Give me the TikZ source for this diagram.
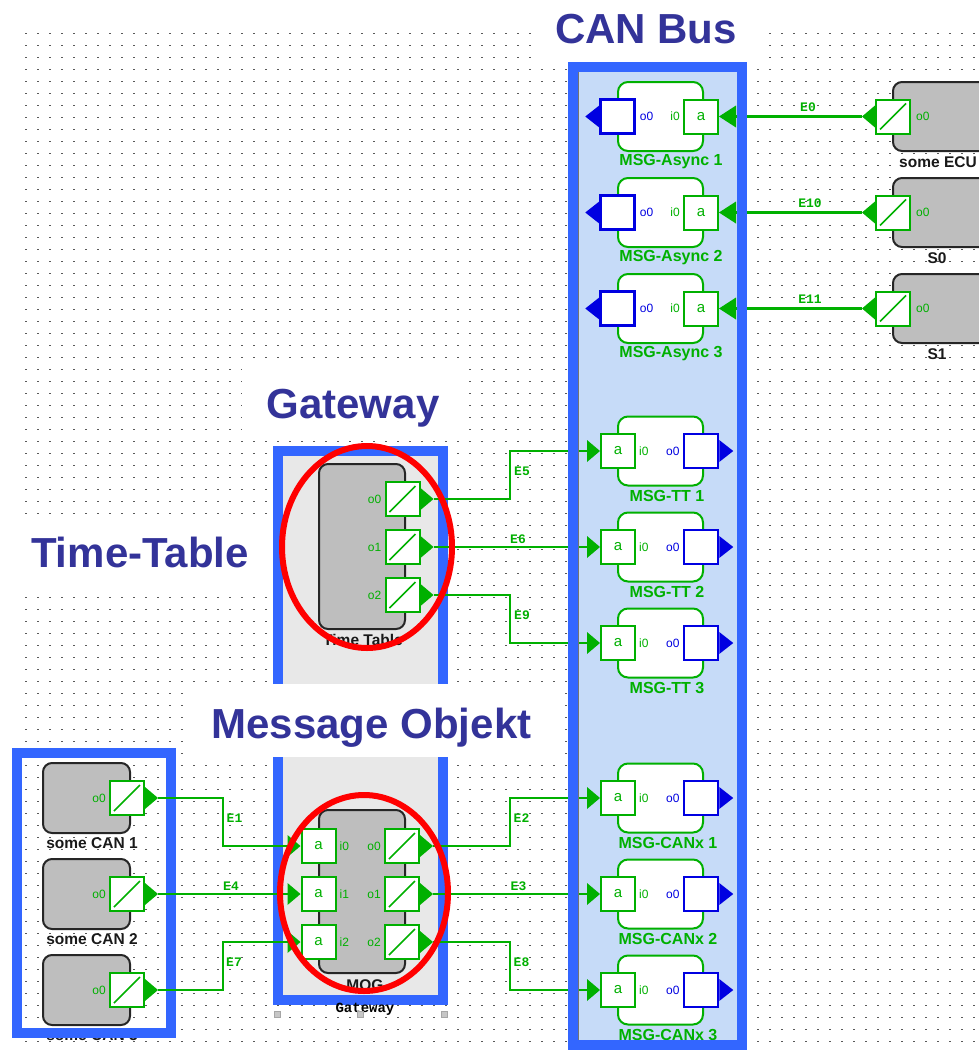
\documentclass[tikz,border=0pt]{standalone}
\usepackage{fontspec}
\setmainfont{Liberation Sans}
\newfontfamily\edgefont{Liberation Mono}
\usetikzlibrary{positioning}

\definecolor{grn}{RGB}{0,176,0}
\definecolor{frameblue}{RGB}{51,102,255}
\definecolor{busfill}{RGB}{198,219,248}
\definecolor{gwfill}{RGB}{232,232,232}
\definecolor{blkgray}{RGB}{190,190,190}
\definecolor{portblue}{RGB}{0,0,225}
\definecolor{ttlblue}{RGB}{51,51,153}

\begin{document}
\begin{tikzpicture}[x=1pt, y=-1pt,
  wire/.style={draw=grn, line width=2.5pt},
  frame/.style={draw=frameblue, line width=10pt},
  blk/.style={draw=black!85, fill=blkgray, line width=2pt, rounded corners=9pt},
  msgbox/.style={draw=grn, fill=white, line width=2pt, rounded corners=10pt, minimum width=85pt, minimum height=69pt},
  gport/.style={draw=grn, fill=white, line width=2pt, minimum width=34pt, minimum height=34pt, inner sep=0pt, text=grn, font=\fontsize{15}{15}\selectfont},
  bport/.style={gport, draw=portblue, line width=2.5pt},
  conv/.style={gport, path picture={\draw[grn, line width=1.5pt] ([shift={(4pt,4pt)}]path picture bounding box.south west) -- ([shift={(-4pt,-4pt)}]path picture bounding box.north east);}},
  plbl/.style={text=grn, font=\fontsize{12}{12}\selectfont, inner sep=0pt},
  bplbl/.style={plbl, text=portblue},
  msglbl/.style={text=grn, font=\fontsize{16}{16}\selectfont\bfseries},
  blklbl/.style={text=black!90, font=\fontsize{15.5}{16}\selectfont\bfseries},
  elbl/.style={text=grn, font=\edgefont\fontsize{13}{13}\selectfont\bfseries},
  ttl/.style={text=ttlblue, font=\fontsize{42}{48}\selectfont\bfseries, anchor=base},
  dotrow/.style={draw=black!65, line width=1.6pt, dash pattern=on 1.6pt off 10.4pt}]

\useasboundingbox (0,0) rectangle (978,1050);

% grid
\foreach \r in {0,...,84}
  \draw[dotrow] (25,33.3+12*\r) -- (978,33.3+12*\r);

% gateway frame
\draw[frame, fill=gwfill] (278,451) rectangle (443,1000);

% titles
\fill[white] (535,0) rectangle (762,62);
\fill[white] (242,366) rectangle (462,437);
\fill[white] (0,515) rectangle (270,592);
\fill[white] (188,684) rectangle (556,757);
\node[ttl] (canbusttl) at (646,43) {CAN Bus};
\node[ttl] (gatewayttl) at (353,418) {Gateway};
\node[ttl] (timetablettl) at (140,567) {Time-Table};
\node[ttl] (msgobjttl) at (371.5,738) {Message Objekt};

\fill[busfill] (573,67) rectangle (742,1045);

% MSG-Async
\node[msgbox] (as1) at (660.5,116.5) {};
\node[bport] (as1o) at (617.5,116.5) {};
\node[gport] (as1i) at (701,116.5) {a};
\node[bplbl, right=4pt of as1o] (as1ol) {o0};
\node[plbl, left=3pt of as1i] (as1il) {i0};
\node[msglbl] (as1l) at (671,161.5) {MSG-Async 1};
\fill[portblue] (as1o.west) ++(0,-11) -- ++(-14,11) -- ++(14,11) -- cycle;
\fill[grn] (as1i.east) -- ++(17,-11) -- ++(0,22) -- cycle;

\node[msgbox] (as2) at (660.5,212.5) {};
\node[bport] (as2o) at (617.5,212.5) {};
\node[gport] (as2i) at (701,212.5) {a};
\node[bplbl, right=4pt of as2o] (as2ol) {o0};
\node[plbl, left=3pt of as2i] (as2il) {i0};
\node[msglbl] (as2l) at (671,257.5) {MSG-Async 2};
\fill[portblue] (as2o.west) ++(0,-11) -- ++(-14,11) -- ++(14,11) -- cycle;
\fill[grn] (as2i.east) -- ++(17,-11) -- ++(0,22) -- cycle;

\node[msgbox] (as3) at (660.5,308.5) {};
\node[bport] (as3o) at (617.5,308.5) {};
\node[gport] (as3i) at (701,308.5) {a};
\node[bplbl, right=4pt of as3o] (as3ol) {o0};
\node[plbl, left=3pt of as3i] (as3il) {i0};
\node[msglbl] (as3l) at (671,353.5) {MSG-Async 3};
\fill[portblue] (as3o.west) ++(0,-11) -- ++(-14,11) -- ++(14,11) -- cycle;
\fill[grn] (as3i.east) -- ++(17,-11) -- ++(0,22) -- cycle;

% ECUs
\node[blk, minimum width=102pt, minimum height=69pt] (ecu1) at (944,116.5) {};
\node[conv] (ecu1o) at (893,116.5) {};
\node[plbl, right=5pt of ecu1o] (ecu1ol) {o0};
\node[blklbl] (ecu1l) at (938,162) {some ECU};
\fill[grn] (ecu1o.west) ++(0,-11) -- ++(-13,11) -- ++(13,11) -- cycle;

\node[blk, minimum width=102pt, minimum height=69pt] (ecu2) at (944,212.5) {};
\node[conv] (ecu2o) at (893,212.5) {};
\node[plbl, right=5pt of ecu2o] (ecu2ol) {o0};
\node[blklbl] (ecu2l) at (937,258) {S0};
\fill[grn] (ecu2o.west) ++(0,-11) -- ++(-13,11) -- ++(13,11) -- cycle;

\node[blk, minimum width=102pt, minimum height=69pt] (ecu3) at (944,308.5) {};
\node[conv] (ecu3o) at (893,308.5) {};
\node[plbl, right=5pt of ecu3o] (ecu3ol) {o0};
\node[blklbl] (ecu3l) at (937,354) {S1};
\fill[grn] (ecu3o.west) ++(0,-11) -- ++(-13,11) -- ++(13,11) -- cycle;

\draw[wire] ([xshift=-13pt]ecu1o.west) -- ([xshift=17pt]as1i.east);
\draw[wire] ([xshift=-13pt]ecu2o.west) -- ([xshift=17pt]as2i.east);
\draw[wire] ([xshift=-13pt]ecu3o.west) -- ([xshift=17pt]as3i.east);
\node[elbl] (e0) at (808,107) {E0};
\node[elbl] (e10) at (810,203) {E10};
\node[elbl] (e11) at (810,299) {E11};

% MSG-TT
\node[msgbox] (tt1) at (660.5,451) {};
\node[gport] (tt1i) at (618,451) {a};
\node[bport] (tt1o) at (701,451) {};
\node[plbl, right=3pt of tt1i] (tt1il) {i0};
\node[bplbl, left=3pt of tt1o] (tt1ol) {o0};
\node[msglbl] (tt1l) at (667,496) {MSG-TT 1};
\fill[grn] (tt1i.west) -- ++(-13,-11) -- ++(0,22) -- cycle;
\fill[portblue] (tt1o.east) ++(0,-11) -- ++(14,11) -- ++(-14,11) -- cycle;

\node[msgbox] (tt2) at (660.5,547) {};
\node[gport] (tt2i) at (618,547) {a};
\node[bport] (tt2o) at (701,547) {};
\node[plbl, right=3pt of tt2i] (tt2il) {i0};
\node[bplbl, left=3pt of tt2o] (tt2ol) {o0};
\node[msglbl] (tt2l) at (667,592) {MSG-TT 2};
\fill[grn] (tt2i.west) -- ++(-13,-11) -- ++(0,22) -- cycle;
\fill[portblue] (tt2o.east) ++(0,-11) -- ++(14,11) -- ++(-14,11) -- cycle;

\node[msgbox] (tt3) at (660.5,643) {};
\node[gport] (tt3i) at (618,643) {a};
\node[bport] (tt3o) at (701,643) {};
\node[plbl, right=3pt of tt3i] (tt3il) {i0};
\node[bplbl, left=3pt of tt3o] (tt3ol) {o0};
\node[msglbl] (tt3l) at (667,688) {MSG-TT 3};
\fill[grn] (tt3i.west) -- ++(-13,-11) -- ++(0,22) -- cycle;
\fill[portblue] (tt3o.east) ++(0,-11) -- ++(14,11) -- ++(-14,11) -- cycle;

% MSG-CANx
\node[msgbox] (cx1) at (660.5,798) {};
\node[gport] (cx1i) at (618,798) {a};
\node[bport] (cx1o) at (701,798) {};
\node[plbl, right=3pt of cx1i] (cx1il) {i0};
\node[bplbl, left=3pt of cx1o] (cx1ol) {o0};
\node[msglbl] (cx1l) at (668,843) {MSG-CANx 1};
\fill[grn] (cx1i.west) -- ++(-13,-11) -- ++(0,22) -- cycle;
\fill[portblue] (cx1o.east) ++(0,-11) -- ++(14,11) -- ++(-14,11) -- cycle;

\node[msgbox] (cx2) at (660.5,894) {};
\node[gport] (cx2i) at (618,894) {a};
\node[bport] (cx2o) at (701,894) {};
\node[plbl, right=3pt of cx2i] (cx2il) {i0};
\node[bplbl, left=3pt of cx2o] (cx2ol) {o0};
\node[msglbl] (cx2l) at (668,939) {MSG-CANx 2};
\fill[grn] (cx2i.west) -- ++(-13,-11) -- ++(0,22) -- cycle;
\fill[portblue] (cx2o.east) ++(0,-11) -- ++(14,11) -- ++(-14,11) -- cycle;

\node[msgbox] (cx3) at (660.5,990) {};
\node[gport] (cx3i) at (618,990) {a};
\node[bport] (cx3o) at (701,990) {};
\node[plbl, right=3pt of cx3i] (cx3il) {i0};
\node[bplbl, left=3pt of cx3o] (cx3ol) {o0};
\node[msglbl] (cx3l) at (668,1035) {MSG-CANx 3};
\fill[grn] (cx3i.west) -- ++(-13,-11) -- ++(0,22) -- cycle;
\fill[portblue] (cx3o.east) ++(0,-11) -- ++(14,11) -- ++(-14,11) -- cycle;

% Time Table
\node[blk, minimum width=86pt, minimum height=165pt] (tt) at (362,546.5) {};
\node[conv] (tto0) at (402.5,499) {};
\node[conv] (tto1) at (402.5,547) {};
\node[conv] (tto2) at (402.5,595) {};
\node[plbl, left=3pt of tto0] (tto0l) {o0};
\node[plbl, left=3pt of tto1] (tto1l) {o1};
\node[plbl, left=3pt of tto2] (tto2l) {o2};
\fill[grn] (tto0.east) ++(0,-11) -- ++(13,11) -- ++(-13,11) -- cycle;
\fill[grn] (tto1.east) ++(0,-11) -- ++(13,11) -- ++(-13,11) -- cycle;
\fill[grn] (tto2.east) ++(0,-11) -- ++(13,11) -- ++(-13,11) -- cycle;
\node[blklbl] (ttl) at (363,640) {Time Table};

% MOG
\node[blk, minimum width=86pt, minimum height=163pt] (mog) at (362,891.5) {};
\node[gport] (mi0) at (318.5,846) {a};
\node[gport] (mi1) at (318.5,894) {a};
\node[gport] (mi2) at (318.5,942) {a};
\node[plbl, right=3pt of mi0] (mi0l) {i0};
\node[plbl, right=3pt of mi1] (mi1l) {i1};
\node[plbl, right=3pt of mi2] (mi2l) {i2};
\fill[grn] (mi0.west) -- ++(-13,-11) -- ++(0,22) -- cycle;
\fill[grn] (mi1.west) -- ++(-13,-11) -- ++(0,22) -- cycle;
\fill[grn] (mi2.west) -- ++(-13,-11) -- ++(0,22) -- cycle;
\node[conv] (mo0) at (402,846) {};
\node[conv] (mo1) at (402,894) {};
\node[conv] (mo2) at (402,942) {};
\node[plbl, left=3pt of mo0] (mo0l) {o0};
\node[plbl, left=3pt of mo1] (mo1l) {o1};
\node[plbl, left=3pt of mo2] (mo2l) {o2};
\fill[grn] (mo0.east) ++(0,-11) -- ++(13,11) -- ++(-13,11) -- cycle;
\fill[grn] (mo1.east) ++(0,-11) -- ++(13,11) -- ++(-13,11) -- cycle;
\fill[grn] (mo2.east) ++(0,-11) -- ++(13,11) -- ++(-13,11) -- cycle;
\node[blklbl] (mogl) at (365,985) {MOG};
\node[text=black, font=\edgefont\fontsize{14}{14}\selectfont\bfseries] (gwl) at (365,1009) {Gateway};

% some CAN
\node[blk, minimum width=87pt, minimum height=70pt] (can1) at (86.5,798) {};
\node[conv] (can1o) at (127,798) {};
\node[plbl, left=3pt of can1o] (can1ol) {o0};
\node[blklbl] (can1l) at (92,843) {some CAN 1};
\fill[grn] (can1o.east) ++(0,-11) -- ++(13,11) -- ++(-13,11) -- cycle;

\node[blk, minimum width=87pt, minimum height=70pt] (can2) at (86.5,894) {};
\node[conv] (can2o) at (127,894) {};
\node[plbl, left=3pt of can2o] (can2ol) {o0};
\node[blklbl] (can2l) at (92,939) {some CAN 2};
\fill[grn] (can2o.east) ++(0,-11) -- ++(13,11) -- ++(-13,11) -- cycle;

\node[blk, minimum width=87pt, minimum height=70pt] (can3) at (86.5,990) {};
\node[conv] (can3o) at (127,990) {};
\node[plbl, left=3pt of can3o] (can3ol) {o0};
\node[blklbl] (can3l) at (92,1035) {some CAN 3};
\fill[grn] (can3o.east) ++(0,-11) -- ++(13,11) -- ++(-13,11) -- cycle;

\draw[frame] (17,753) rectangle (171,1033);

% wires
\coordinate (bendL) at (223,0);
\coordinate (bendR) at (510,0);
\draw[wire] ([xshift=13pt]can1o.east) -- (can1o.east -| bendL) |- ([xshift=-13pt]mi0.west);
\draw[wire] ([xshift=13pt]can2o.east) -- ([xshift=-13pt]mi1.west);
\draw[wire] ([xshift=13pt]can3o.east) -- (can3o.east -| bendL) |- ([xshift=-13pt]mi2.west);
\node[elbl] (e1) at (234.5,818) {E1};
\node[elbl] (e4) at (231,886) {E4};
\node[elbl] (e7) at (234,962) {E7};

\draw[wire] ([xshift=13pt]tto0.east) -- (tto0.east -| bendR) |- ([xshift=-13pt]tt1i.west);
\draw[wire] ([xshift=13pt]tto1.east) -- ([xshift=-13pt]tt2i.west);
\draw[wire] ([xshift=13pt]tto2.east) -- (tto2.east -| bendR) |- ([xshift=-13pt]tt3i.west);
\node[elbl] (e5) at (522,471) {E5};
\node[elbl] (e6) at (518,539) {E6};
\node[elbl] (e9) at (522,615) {E9};

\draw[wire] ([xshift=13pt]mo0.east) -- (mo0.east -| bendR) |- ([xshift=-13pt]cx1i.west);
\draw[wire] ([xshift=13pt]mo1.east) -- ([xshift=-13pt]cx2i.west);
\draw[wire] ([xshift=13pt]mo2.east) -- (mo2.east -| bendR) |- ([xshift=-13pt]cx3i.west);
\node[elbl] (e2) at (521.5,818) {E2};
\node[elbl] (e3) at (518.5,886) {E3};
\node[elbl] (e8) at (521.5,962) {E8};

% CAN Bus frame
\draw[frame] (573,67) rectangle (742,1045);
\draw[black!55, line width=1.2pt] (578.6,72) -- (578.6,1040);

% marks
\draw[red, line width=6pt] (367,547) ellipse [x radius=85, y radius=101];
\draw[red, line width=6pt] (364,893) ellipse [x radius=84, y radius=98];
\filldraw[fill=gray!45, draw=gray!70] (274,1011) rectangle (280,1017);
\filldraw[fill=gray!45, draw=gray!70] (357,1011) rectangle (363,1017);
\filldraw[fill=gray!45, draw=gray!70] (441,1011) rectangle (447,1017);

\end{tikzpicture}
\end{document}
